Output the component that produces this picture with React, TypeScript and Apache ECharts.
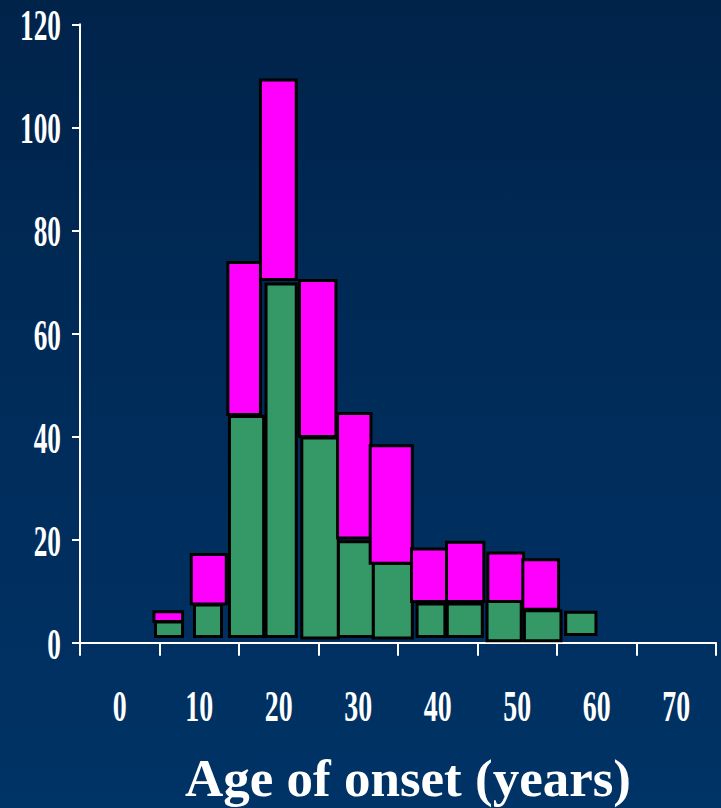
import React, { useEffect, useRef } from "react";
import * as echarts from "echarts";

// Tick labels
const xLabels = ["0", "10", "20", "30", "40", "50", "60", "70"];
const yTicks = [0, 20, 40, 60, 80, 100, 120];
const xTitle = "Age of onset (years)";

// Green blocks (age range and count range)
const greenStart = [4.5, 9.4, 13.8, 18.4, 22.9, 27.5, 31.9, 37.4, 41.2, 46.2, 50.9, 56.1];
const greenEnd = [7.9, 12.8, 18.1, 22.2, 27.5, 31.9, 36.8, 40.9, 45.6, 50.5, 55.5, 59.9];
const greenLow = [1.2, 1.2, 1.2, 1.2, 0.9, 1.2, 0.9, 1.2, 1.2, 0.4, 0.4, 1.6];
const greenHigh = [4.0, 7.3, 43.9, 69.6, 39.7, 19.6, 15.4, 7.5, 7.5, 8.0, 6.2, 5.9];

// Magenta blocks
const pinkStart = [4.3, 9.0, 13.6, 17.7, 22.6, 27.4, 31.5, 36.7, 41.1, 46.3, 50.7];
const pinkEnd = [7.9, 13.4, 17.7, 22.2, 27.2, 31.6, 36.8, 41.1, 45.8, 50.8, 55.2];
const pinkLow = [4.1, 7.5, 44.3, 70.5, 40.0, 20.3, 15.4, 8.0, 8.0, 8.0, 6.5];
const pinkHigh = [6.0, 17.1, 73.8, 109.2, 70.3, 44.5, 38.2, 18.2, 19.5, 17.4, 16.1];

const greenData = greenStart.map((s, i) => [s, greenEnd[i], greenLow[i], greenHigh[i]]);
const pinkData = pinkStart.map((s, i) => [s, pinkEnd[i], pinkLow[i], pinkHigh[i]]);

const makeRender = (color: string) => (params: any, api: any) => {
  const p0 = api.coord([api.value(0), api.value(3)]);
  const p1 = api.coord([api.value(1), api.value(2)]);
  return {
    type: "rect",
    shape: { x: p0[0], y: p0[1], width: p1[0] - p0[0], height: p1[1] - p0[1] },
    style: { fill: color, stroke: "#000000", lineWidth: 3 },
  };
};

const FONT = "'Liberation Serif', 'Times New Roman', serif";

export default function App() {
  const ref = useRef<HTMLDivElement>(null);
  useEffect(() => {
    document.body.style.margin = "0";
    if (!ref.current) return;
    const chart = echarts.init(ref.current, null, { renderer: "svg" });
    chart.setOption({
      animation: false,
      grid: { left: 80, right: 5, top: 24.3, bottom: 165.3, containLabel: false },
      xAxis: [
        {
          type: "category",
          data: xLabels,
          boundaryGap: true,
          axisLine: { show: true, onZero: false, lineStyle: { color: "#ffffff", width: 2 } },
          axisTick: { show: true, length: 13, lineStyle: { color: "#ffffff", width: 2 } },
          axisLabel: { show: false },
          splitLine: { show: false },
        },
        { type: "value", min: -5, max: 75, show: false },
      ],
      yAxis: {
        type: "value",
        min: 0,
        max: 120,
        interval: 20,
        axisLine: { show: true, onZero: false, lineStyle: { color: "#ffffff", width: 2 } },
        axisTick: { show: true, length: 8, lineStyle: { color: "#ffffff", width: 2 } },
        axisLabel: { show: false },
        splitLine: { show: false },
      },
      series: [
        {
          type: "custom",
          xAxisIndex: 1,
          yAxisIndex: 0,
          renderItem: makeRender("#349966"),
          encode: { x: [0, 1], y: [2, 3] },
          data: greenData,
        },
        {
          type: "custom",
          xAxisIndex: 1,
          yAxisIndex: 0,
          renderItem: makeRender("#ff00ff"),
          encode: { x: [0, 1], y: [2, 3] },
          data: pinkData,
        },
      ],
    });

    const graphics: any[] = [];
    yTicks.forEach((v) => {
      const py = chart.convertToPixel({ yAxisIndex: 0 }, v) as number;
      graphics.push({
        type: "text",
        x: 61,
        y: py + 1,
        scaleX: 0.62,
        style: {
          text: String(v),
          x: 0,
          y: 0,
          fill: "#ffffff",
          font: `bold 44px ${FONT}`,
          textAlign: "right",
          textVerticalAlign: "middle",
        },
      });
    });
    xLabels.forEach((lab, i) => {
      const px = chart.convertToPixel({ xAxisIndex: 0 }, i) as number;
      graphics.push({
        type: "text",
        x: px,
        y: 706,
        scaleX: 0.62,
        style: {
          text: lab,
          x: 0,
          y: 0,
          fill: "#ffffff",
          font: `bold 45px ${FONT}`,
          textAlign: "center",
          textVerticalAlign: "middle",
        },
      });
    });
    graphics.push({
      type: "text",
      x: 408,
      y: 778,
      style: {
        text: xTitle,
        x: 0,
        y: 0,
        fill: "#ffffff",
        font: `bold 53px ${FONT}`,
        textAlign: "center",
        textVerticalAlign: "middle",
      },
    });
    chart.setOption({ graphic: graphics });

    return () => chart.dispose();
  }, []);
  return (
    <div
      ref={ref}
      style={{
        width: 721,
        height: 808,
        background: "linear-gradient(to bottom, #00234a 0%, #002c5a 50%, #003366 100%)",
      }}
    />
  );
}
